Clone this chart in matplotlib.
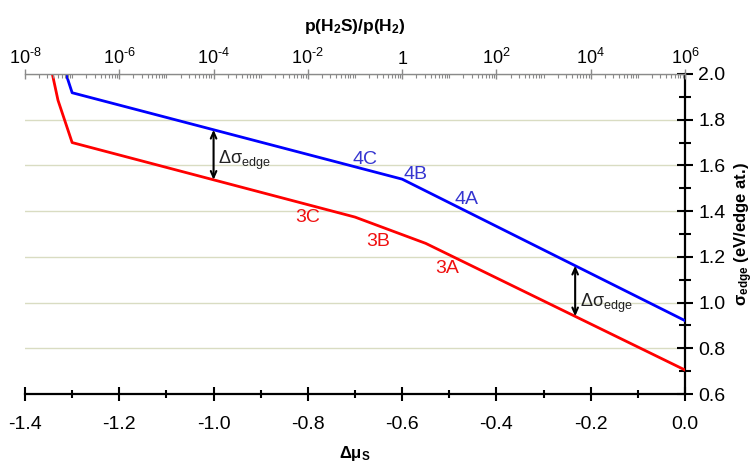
import numpy as np
import matplotlib
matplotlib.use("Agg")
import matplotlib.pyplot as plt
from matplotlib.ticker import FixedLocator, MultipleLocator, LogLocator, NullFormatter

plt.rcParams['font.family'] = ['Liberation Sans', 'DejaVu Sans']
plt.rcParams['mathtext.fontset'] = 'custom'
plt.rcParams['mathtext.rm'] = 'Liberation Sans'
plt.rcParams['mathtext.it'] = 'Liberation Sans:italic'
plt.rcParams['mathtext.bf'] = 'Liberation Sans:bold'
plt.rcParams['mathtext.default'] = 'regular'
plt.rcParams['axes.unicode_minus'] = False

# ---- data ----
blue_x = [-1.313, -1.30, -0.60, 0.00]
blue_y = [2.00, 1.918, 1.540, 0.921]
red_x = [-1.342, -1.330, -1.30, -0.70, -0.55, 0.00]
red_y = [2.00, 1.885, 1.700, 1.374, 1.259, 0.705]

blue_labels = ["4C", "4B", "4A"]
blue_label_x = [-0.679, -0.572, -0.463]
blue_label_y = [1.628, 1.561, 1.453]
red_labels = ["3C", "3B", "3A"]
red_label_x = [-0.800, -0.651, -0.505]
red_label_y = [1.370, 1.269, 1.147]

arrow_x = [-1.00, -0.233]
arrow_text_x = [-0.99, -0.222]
arrow_text_y = [1.605, 0.980]

x_ticks = [-1.4, -1.2, -1.0, -0.8, -0.6, -0.4, -0.2, 0.0]
x_ticklabels = ["-1.4", "-1.2", "-1.0", "-0.8", "-0.6", "-0.4", "-0.2", "0.0"]
y_ticks = [0.6, 0.8, 1.0, 1.2, 1.4, 1.6, 1.8, 2.0]
y_ticklabels = ["0.6", "0.8", "1.0", "1.2", "1.4", "1.6", "1.8", "2.0"]
top_ticks = [1e-8, 1e-6, 1e-4, 1e-2, 1e0, 1e2, 1e4, 1e6]
top_ticklabels = [r"10$^{\text{-8}}$", r"10$^{\text{-6}}$", r"10$^{\text{-4}}$",
                  r"10$^{\text{-2}}$", "1", r"10$^{2}$", r"10$^{4}$", r"10$^{6}$"]

BLUE = "#0000ff"
RED = "#ff0000"

fig = plt.figure(figsize=(7.56, 4.65), dpi=100)
ax = fig.add_axes([25/756, 1-394/465, 660/756, 320/465])

ax.set_xlim(-1.4, 0.0)
ax.set_ylim(0.6, 2.0)

# grid
ax.set_axisbelow(True)
ax.yaxis.grid(True, which='major', color='#d9dcc2', lw=1.0)

ax.plot(blue_x, blue_y, color=BLUE, lw=2.0, zorder=3, clip_on=True)
ax.plot(red_x, red_y, color=RED, lw=2.0, zorder=3, clip_on=True)

for t, xx, yy in zip(blue_labels, blue_label_x, blue_label_y):
    ax.text(xx, yy, t, color='#3535d0', fontsize=14, ha='center', va='center')
for t, xx, yy in zip(red_labels, red_label_x, red_label_y):
    ax.text(xx, yy, t, color='#f01010', fontsize=14, ha='center', va='center')

for xa, tx, ty in zip(arrow_x, arrow_text_x, arrow_text_y):
    yb = np.interp(xa, blue_x, blue_y)
    yr = np.interp(xa, red_x, red_y)
    ax.annotate('', xy=(xa, yr), xytext=(xa, yb),
                arrowprops=dict(arrowstyle='<->,head_length=0.45,head_width=0.2',
                                color='black', lw=1.5, shrinkA=0, shrinkB=0))
    ax.text(tx, ty, "Δσ$_{edge}$", fontsize=13, ha='left', va='baseline', color='#222222')

# spines
ax.spines['left'].set_visible(False)
ax.spines['top'].set_visible(False)
for s in ['bottom', 'right']:
    ax.spines[s].set_linewidth(1.6)
    ax.spines[s].set_color('black')

ax.xaxis.set_major_locator(FixedLocator(x_ticks))
ax.set_xticklabels(x_ticklabels)
ax.xaxis.set_minor_locator(MultipleLocator(0.1))
ax.tick_params(axis='x', which='major', direction='inout', length=10, width=1.5,
               labelsize=14, pad=11)
ax.tick_params(axis='x', which='minor', direction='inout', length=5.5, width=1.5)

ax.yaxis.tick_right()
ax.yaxis.set_label_position('right')
ax.yaxis.set_major_locator(FixedLocator(y_ticks))
ax.set_yticklabels(y_ticklabels)
ax.yaxis.set_minor_locator(MultipleLocator(0.1))
ax.tick_params(axis='y', which='major', direction='inout', length=11, width=1.5,
               labelsize=14, pad=4, left=False, right=True)
ax.tick_params(axis='y', which='minor', direction='inout', length=9, width=1.5,
               left=False, right=True)

ax.set_xlabel("Δμ$_S$", fontsize=12, fontweight='bold', labelpad=8)
ax.set_ylabel("σ$_{edge}$ (eV/edge at.)", fontsize=12, fontweight='bold',
              rotation=90, labelpad=5)

# top log axis
ax2 = ax.twiny()
ax2.set_xscale('log')
ax2.set_xlim(1e-8, 1e6)
for s in ['left', 'right', 'bottom']:
    ax2.spines[s].set_visible(False)
ax2.spines['top'].set_color('#8a8a8a')
ax2.spines['top'].set_linewidth(1.0)
ax2.xaxis.set_major_locator(FixedLocator(top_ticks))
ax2.set_xticklabels(top_ticklabels)
ax2.xaxis.set_minor_locator(LogLocator(base=10, subs=np.arange(1, 10), numticks=200))
ax2.xaxis.set_minor_formatter(NullFormatter())
ax2.tick_params(axis='x', which='major', direction='inout', length=7, width=1.0,
                color='#8a8a8a', labelsize=13, pad=1, labelcolor='black')
ax2.tick_params(axis='x', which='minor', direction='in', length=3, width=0.8,
                color='#8a8a8a')
ax2.set_xlabel("p(H$_2$S)/p(H$_2$)", fontsize=12.5, fontweight='bold', labelpad=12)

fig.savefig("out.png", dpi=100)
